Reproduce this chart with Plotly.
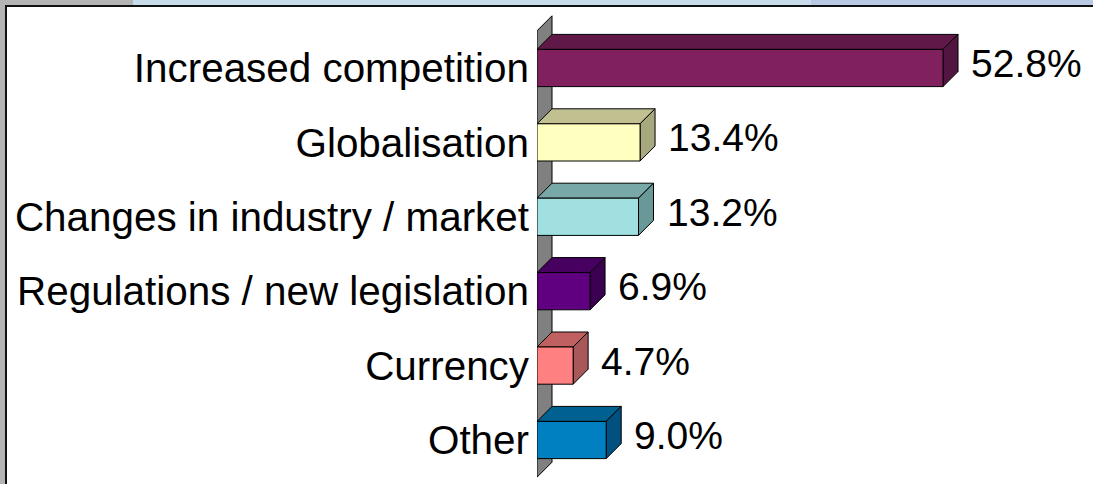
import plotly.graph_objects as go

categories = ["Increased competition", "Globalisation", "Changes in industry / market",
              "Regulations / new legislation", "Currency", "Other"]
values = [52.8, 13.4, 13.2, 6.9, 4.7, 9.0]
front_colors = ["#80205F", "#FFFFC0", "#A0E0E0", "#600080", "#FF8080", "#0080C0"]
top_colors = ["#601848", "#C0C090", "#78A8A8", "#480060", "#C06060", "#006090"]
side_colors = ["#521440", "#A8A87E", "#689898", "#3C0050", "#A85858", "#005080"]

W, H = 1093, 484
x0_px = 537
px_per_unit = 7.69
xmax = (W - x0_px) / px_per_unit
row_px = 74.4
first_center_px = 68
ytop = 0 - first_center_px / row_px
ybot = (H - first_center_px) / row_px
depth_px = 15
dx = depth_px / px_per_unit
dy = depth_px / row_px
bw = 0.5

fig = go.Figure()
fig.add_trace(go.Bar(
    y=list(range(len(categories))), x=values, orientation="h", width=bw,
    marker=dict(color=front_colors, line=dict(color="#000000", width=1)),
    hoverinfo="skip", showlegend=False,
))

shapes = []
# frame decorations
def prect(x0, x1, y0, y1, color):
    return dict(type="rect", xref="paper", yref="paper", x0=x0 / W, x1=x1 / W,
                y0=1 - y1 / H, y1=1 - y0 / H, fillcolor=color, line=dict(width=0), layer="above")

shapes.append(prect(0, 133, 0, 5, "#B4B4B4"))
shapes.append(prect(133, 811, 0, 5, "#C8DDEB"))
shapes.append(prect(811, W, 0, 5, "#B8C9E3"))
shapes.append(prect(0, 5, 0, H, "#B4B4B4"))
shapes.append(prect(5, W, 5, 7, "#111111"))
shapes.append(prect(5, 7, 5, H, "#111111"))

# wall
n = len(categories)
wall = f"M 0 {n - 0.5} L 0 -0.5 L {dx} {-0.5 - dy} L {dx} {n - 0.5 - dy} Z"
shapes.append(dict(type="path", xref="x", yref="y", path=wall, fillcolor="#808080",
                   line=dict(color="#000000", width=1), layer="below"))

for i, v in enumerate(values):
    yt = i - bw / 2
    yb = i + bw / 2
    top = f"M 0 {yt} L {v} {yt} L {v + dx} {yt - dy} L {dx} {yt - dy} Z"
    side = f"M {v} {yt} L {v + dx} {yt - dy} L {v + dx} {yb - dy} L {v} {yb} Z"
    shapes.append(dict(type="path", xref="x", yref="y", path=top, fillcolor=top_colors[i],
                       line=dict(color="#000000", width=1), layer="below"))
    shapes.append(dict(type="path", xref="x", yref="y", path=side, fillcolor=side_colors[i],
                       line=dict(color="#000000", width=1), layer="below"))

annotations = []
for i, v in enumerate(values):
    annotations.append(dict(x=v + dx, y=i - 0.06, xref="x", yref="y", text=f"{v:.1f}%",
                            showarrow=False, xanchor="left", yanchor="middle", xshift=11,
                            font=dict(family="Liberation Sans, Arial", size=39, color="#000000")))

fig.update_layout(
    width=W, height=H,
    margin=dict(l=0, r=0, t=0, b=0),
    paper_bgcolor="#FFFFFF", plot_bgcolor="#FFFFFF",
    shapes=shapes, annotations=annotations,
    xaxis=dict(domain=[x0_px / W, 1], range=[0, xmax], showgrid=False, zeroline=False,
               showticklabels=False, showline=False, ticks=""),
    yaxis=dict(range=[ybot, ytop], tickvals=list(range(n)), ticktext=categories,
               showgrid=False, zeroline=False, showline=False, ticks="",
               ticklabelstandoff=7,
               tickfont=dict(family="Liberation Sans, Arial", size=40.4, color="#000000")),
    font=dict(family="Liberation Sans, Arial"),
)

fig.write_html("out.html",
               config={"displayModeBar": False, "staticPlot": True},
               post_script="document.body.style.margin='0';document.body.style.overflow='hidden';")
